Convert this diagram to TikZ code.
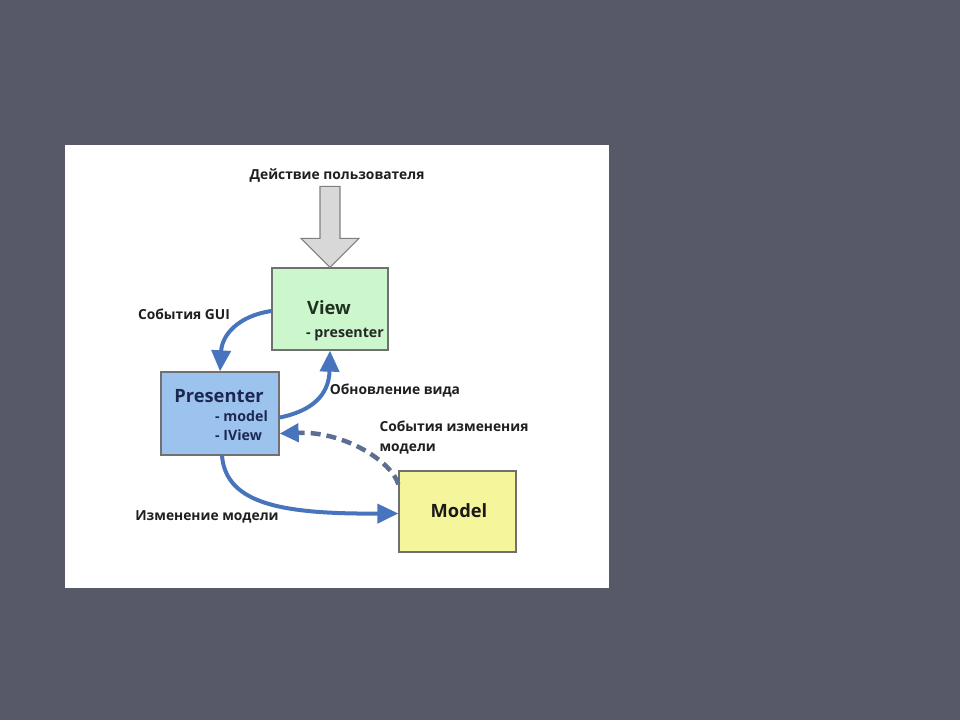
\documentclass[tikz,border=0pt]{standalone}
\usepackage{fontspec}
\setmainfont{Open Sans}
\usetikzlibrary{arrows.meta,calc}
\definecolor{slide}{RGB}{87,89,104}
\definecolor{viewgreen}{RGB}{204,247,204}
\definecolor{presblue}{RGB}{156,194,238}
\definecolor{modelyellow}{RGB}{245,245,155}
\definecolor{flow}{RGB}{72,116,190}
\definecolor{notify}{RGB}{92,110,146}
\definecolor{boxline}{RGB}{112,112,112}
\definecolor{actiongray}{RGB}{216,216,216}
\definecolor{viewtext}{RGB}{32,48,32}
\definecolor{prestext}{RGB}{28,40,82}
\tikzset{
  box/.style={draw=boxline, line width=1.3pt, inner sep=0pt},
  big/.style={font=\fontsize{18.3}{21}\selectfont\bfseries},
  attr/.style={font=\fontsize{14.2}{19}\selectfont\bfseries, inner sep=0pt},
  lbl/.style={font=\fontsize{13.8}{20}\selectfont\bfseries, text=black!88},
  flowarrow/.style={draw=flow, line width=4pt, -{Triangle[length=21pt,width=19pt]}},
  notifyarrow/.style={draw=notify, line width=4.5pt, dash pattern=on 10pt off 6pt,
    -{Triangle[length=19pt,width=18pt,color=flow]}},
  useraction/.style={fill=actiongray, draw=gray, line width=1.2pt, line join=miter}
}
\begin{document}
\begin{tikzpicture}[x=1pt,y=-1pt]
\fill[slide] (0,0) rectangle (960,720);
\fill[white] (65,145) rectangle (609,588);

\node[box, fill=viewgreen, minimum width=116pt, minimum height=82pt] (View) at (330,309) {};
\node[box, fill=presblue, minimum width=118pt, minimum height=83pt] (Presenter) at (220,413.5) {};
\node[box, fill=modelyellow, minimum width=117pt, minimum height=81pt] (Model) at (457.5,511.5) {};

\node[big, text=viewtext] (viewname) at (329,308) {View};
\node[attr, anchor=east, text=black!85] (viewattr) at (384,334) {- presenter};
\node[big, text=prestext] (presname) at (219,396) {Presenter};
\node[attr, anchor=west, text=prestext] (presmodel) at (215,416) {- model};
\node[attr, anchor=west, text=prestext] (presview) at (215,435) {- IView};
\node[big, text=black!90] (modelname) at (459,511) {Model};

\node[lbl] (action) at (337,176) {Действие пользователя};
\node[lbl] (gui) at (184,314) {События GUI};
\node[lbl] (update) at (395,391) {Обновление вида};
\node[lbl, anchor=west, align=left] (events) at (376,438) {События изменения\\модели};
\node[lbl] (change) at (207,517) {Изменение модели};

\coordinate (usertip) at (View.north);
\draw[useraction] (usertip) -- ++(29,-29) -- ++(-19,0) -- ++(0,-52) -- ++(-20,0)
  -- ++(0,52) -- ++(-19,0) -- cycle;

\draw[flowarrow] ([yshift=-2pt]View.west) .. controls (238,316) and (222,335) .. (Presenter.north);
\draw[flowarrow] ([yshift=-4pt]Presenter.east) .. controls (312,411) and (329,395) .. (View.south);
\draw[notifyarrow] ([yshift=-14pt]Model.north west) .. controls (392,462) and (345,431) .. ([yshift=-20pt]Presenter.east);
\draw[flowarrow] ([xshift=2pt]Presenter.south) .. controls (226,505) and (285,514) .. ([yshift=-2pt]Model.west);
\end{tikzpicture}
\end{document}
